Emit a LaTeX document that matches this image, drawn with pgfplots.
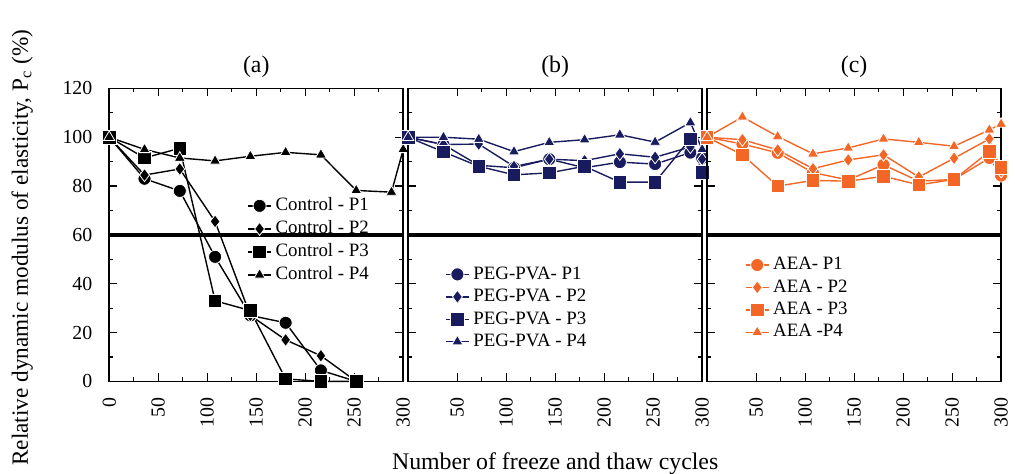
\documentclass[border=0pt]{standalone}
\usepackage{fontspec}
\setmainfont{Liberation Serif}
\usepackage{pgfplots}
\pgfplotsset{compat=1.18}
\usetikzlibrary{calc}

\definecolor{navyc}{RGB}{24,28,94}
\definecolor{orangec}{RGB}{243,102,38}

\begin{document}
\begin{tikzpicture}
\pgfplotsset{
  panel/.style={
    scale only axis, width=148pt, height=147.5pt,
    xmin=0, xmax=300, ymin=0, ymax=120, clip=false,
    axis line style={line width=0.8pt},
    major tick length=4pt, minor tick length=2pt,
    every tick/.style={black, line width=0.6pt},
    tick align=inside, tick pos=both,
    ytick={0,20,...,120}, minor x tick num=1, minor y tick num=1,
    /pgf/number format/assume math mode=true,
    tick label style={font=\fontsize{10}{12}\selectfont},
    xticklabel style={yshift=-4.5pt, rotate=90, anchor=east},
    yticklabel style={xshift=-5pt},
    title style={at={(axis description cs:0.5,1)}, anchor=south, yshift=-4pt,
      font=\fontsize{12}{14}\selectfont},
    legend cell align=left,
    legend image code/.code={\draw[mark repeat=2,mark phase=2,##1]
      plot coordinates {(0cm,0cm) (0.2cm,0cm) (0.4cm,0cm)};},
    legend style={draw=none, fill=none, anchor=north west,
      font=\fontsize{9.5}{11}\selectfont, row sep=-0.5pt},
  },
  ser/.style={line width=0.7pt, color=#1,
    mark options={draw=white, fill=#1, line width=0.4pt, solid}},
  m1/.style={mark=*, mark size=3.3pt},
  m2/.style={mark=diamond*, mark size=3.3pt},
  m3/.style={mark=square*, mark size=3.4pt},
  m4/.style={mark=triangle*, mark size=3.2pt},
}

% (a) Control
\begin{axis}[panel, name=a, title={(a)},
  xtick={0,50,...,300},
  ylabel={Relative dynamic modulus of elasticity, P\textsubscript{c} (\%)},
  ylabel style={at={(axis description cs:-0.236,0.456)}, anchor=south,
    font=\fontsize{11.7}{13}\selectfont},
  legend style={at={(0.449,0.655)}}]
\addplot[black, line width=2pt, forget plot] coordinates {(0,60) (300,60)};
\addplot[ser=black, m1] coordinates {(0,100) (36,83) (72,78) (108,51) (144,27) (180,24) (216,4.5) (252,0)};
\addplot[ser=black, m2] coordinates {(0,100) (36,84.5) (72,87) (108,65.5) (144,27) (180,17) (216,10.5) (252,0)};
\addplot[ser=black, m3] coordinates {(0,100) (36,91.5) (72,95.5) (108,33) (144,29) (180,1) (216,0) (252,0)};
\addplot[ser=black, m4] coordinates {(0,100) (36,95) (72,91.5) (108,90.3) (144,92.2) (180,93.8) (216,92.8) (252,78.2) (288,77.5) (300,95)};
\legend{Control - P1, Control - P2, Control - P3, Control - P4}
\end{axis}

% (b) PEG-PVA
\begin{axis}[panel, name=b, at={(a.south east)}, anchor=south west, xshift=2.5pt,
  title={(b)}, xtick={50,100,...,300}, yticklabels={},
  xlabel={Number of freeze and thaw cycles},
  xlabel style={at={(axis description cs:0.5,0)}, anchor=north, yshift=-32.5pt,
    font=\fontsize{12}{14}\selectfont},
  legend style={at={(0.105,0.42)}}]
\addplot[black, line width=2pt, forget plot] coordinates {(0,60) (300,60)};
\addplot[ser=navyc, m1] coordinates {(0,100) (36,97) (72,88.5) (108,87.5) (144,91) (180,87.5) (216,89.8) (252,89) (288,93.7) (300,91.5)};
\addplot[ser=navyc, m2] coordinates {(0,100) (36,97) (72,97.2) (108,88) (144,91) (180,90.4) (216,93.2) (252,91.8) (288,96) (300,91)};
\addplot[ser=navyc, m3] coordinates {(0,100) (36,94) (72,88.1) (108,84.6) (144,85.4) (180,88.1) (216,81.6) (252,81.6) (288,99.4) (300,85.6)};
\addplot[ser=navyc, m4] coordinates {(0,100) (36,100) (72,99.2) (108,94.1) (144,97.9) (180,99) (216,101) (252,98) (288,106) (300,95)};
\legend{PEG-PVA- P1, PEG-PVA - P2, PEG-PVA - P3, PEG-PVA - P4}
\end{axis}

% (c) AEA
\begin{axis}[panel, name=c, at={(b.south east)}, anchor=south west, xshift=2.5pt,
  title={(c)}, xtick={50,100,...,300}, yticklabels={},
  legend style={at={(0.108,0.452)}}]
\addplot[black, line width=2pt, forget plot] coordinates {(0,60) (300,60)};
\addplot[ser=orangec, m1] coordinates {(0,100) (36,97.2) (72,93.6) (108,85.5) (144,82.5) (180,88.7) (216,82) (252,82.7) (288,91.5) (300,84.3)};
\addplot[ser=orangec, m2] coordinates {(0,100) (36,99) (72,94.8) (108,87.1) (144,90.7) (180,92.8) (216,83.7) (252,91.4) (288,99.3) (300,86)};
\addplot[ser=orangec, m3] coordinates {(0,100) (36,92.8) (72,80) (108,82.3) (144,82) (180,84) (216,80.5) (252,82.7) (288,94.1) (300,87.7)};
\addplot[ser=orangec, m4] coordinates {(0,100) (36,108.3) (72,100.3) (108,93.2) (144,95.6) (180,99.3) (216,97.9) (252,96.3) (288,103) (300,105.4)};
\legend{AEA- P1, AEA - P2, AEA - P3, AEA -P4}
\end{axis}

\pgfresetboundingbox
\path[use as bounding box] ($(a.south west)+(-55pt,-46.5pt)$) rectangle ($(c.north east)+(7pt,44.5pt)$);
\end{tikzpicture}
\end{document}
